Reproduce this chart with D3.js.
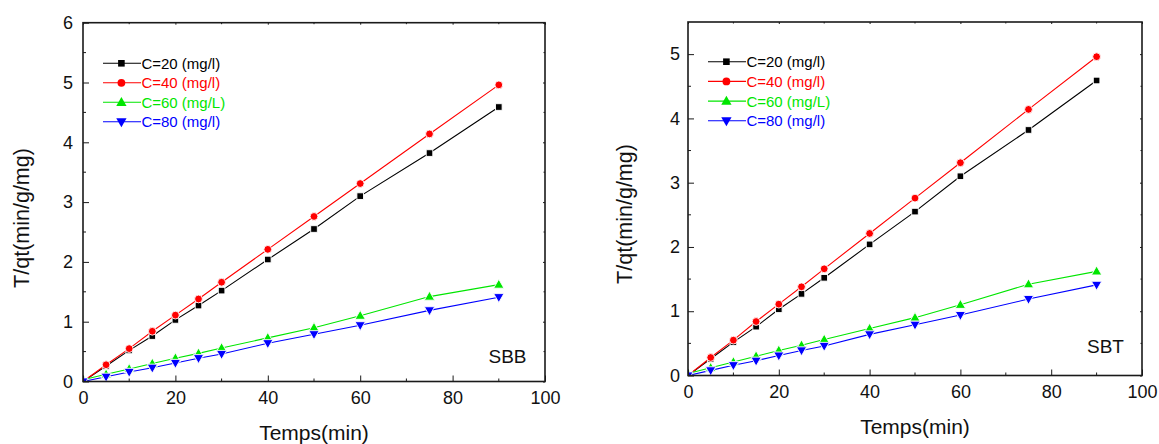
<!DOCTYPE html>
<html><head><meta charset="utf-8">
<script src="https://d3js.org/d3.v7.min.js"></script>
<style>body{margin:0;background:#fff;} svg{display:block;font-family:"Liberation Sans",Arial,sans-serif;}</style>
</head><body>
<svg id="c" width="1159" height="444"></svg>
<script>
// ---- data ----
const times = [0, 5, 10, 15, 20, 25, 30, 40, 50, 60, 75, 90];
const c20 = [0, 0.26, 0.52, 0.76, 1.03, 1.27, 1.52, 2.04, 2.55, 3.10, 3.82, 4.59];
const c40 = [0, 0.28, 0.55, 0.84, 1.11, 1.38, 1.66, 2.21, 2.76, 3.31, 4.14, 4.96];
const c60 = [0.03, 0.12, 0.21, 0.30, 0.39, 0.47, 0.56, 0.73, 0.90, 1.10, 1.42, 1.62];
const c80 = [0, 0.08, 0.16, 0.23, 0.31, 0.39, 0.46, 0.64, 0.79, 0.94, 1.19, 1.41];
const seriesNames = ["C=20 (mg/l)", "C=40 (mg/l)", "C=60 (mg/L)", "C=80 (mg/l)"];
const seriesColors = ["#000000", "#ff0000", "#00e600", "#0000ff"];
const seriesShapes = ["square", "circle", "triangle", "down"];
const xTicks = [0, 20, 40, 60, 80, 100];
const yTicksSBB = [0, 1, 2, 3, 4, 5, 6];
const yTicksSBT = [0, 1, 2, 3, 4, 5];
const xLabel = "Temps(min)";
const yLabel = "T/qt(min/g/mg)";

const svg = d3.select("#c");

function drawPanel(cfg) {
  const g = svg.append("g");
  const x = d3.scaleLinear().domain([0, 100]).range([cfg.x0, cfg.x1]);
  const y = d3.scaleLinear().domain(cfg.yDomain).range([cfg.yb, cfg.yt]);
  const clipId = "clip" + cfg.id;
  svg.append("clipPath").attr("id", clipId).append("rect")
    .attr("x", cfg.x0).attr("y", cfg.yt).attr("width", cfg.x1 - cfg.x0).attr("height", cfg.yb - cfg.yt);

  const data = [c20, c40, c60, c80];
  const plot = g.append("g").attr("clip-path", `url(#${clipId})`);
  const line = d3.line().x((d, i) => x(times[i])).y(d => y(d));
  data.forEach((vals, si) => {
    plot.append("path").attr("d", line(vals)).attr("fill", "none")
      .attr("stroke", seriesColors[si]).attr("stroke-width", 1.1);
  });
  data.forEach((vals, si) => {
    vals.forEach((v, i) => drawMarker(plot, seriesShapes[si], x(times[i]), y(v), seriesColors[si], true));
  });

  const ac = "#1a1a1a";
  const bottom = d3.axisBottom(x).tickValues(xTicks).tickSizeInner(-6).tickSizeOuter(0).tickPadding(cfg.xPad).tickFormat(d3.format("d"));
  const ga = g.append("g").attr("transform", `translate(0,${cfg.yb})`).call(bottom);
  const left = d3.axisLeft(y).tickValues(cfg.yTicks).tickSizeInner(-6).tickSizeOuter(0).tickPadding(cfg.yPad).tickFormat(d3.format("d"));
  const gl = g.append("g").attr("transform", `translate(${cfg.x0},0)`).call(left);
  const top = d3.axisTop(x).tickValues(xTicks).tickSizeInner(-2).tickSizeOuter(0).tickFormat("");
  const gt = g.append("g").attr("transform", `translate(0,${cfg.yt})`).call(top);
  const right = d3.axisRight(y).tickValues(cfg.yTicks).tickSizeInner(-2).tickSizeOuter(0).tickFormat("");
  const gr = g.append("g").attr("transform", `translate(${cfg.x1},0)`).call(right);
  const xMinor = d3.range(10, 100, 20);
  const yMinor = d3.range(0.5, cfg.yDomain[1], 1);
  ga.selectAll(".mn").data(xMinor).enter().append("line").attr("x1", d => x(d)).attr("x2", d => x(d)).attr("y1", 0).attr("y2", -3).attr("stroke", ac);
  gt.selectAll(".mn").data(xMinor).enter().append("line").attr("x1", d => x(d)).attr("x2", d => x(d)).attr("y1", 0).attr("y2", 1.5).attr("stroke", ac);
  gl.selectAll(".mn").data(yMinor).enter().append("line").attr("y1", d => y(d)).attr("y2", d => y(d)).attr("x1", 0).attr("x2", 3).attr("stroke", ac);
  gr.selectAll(".mn").data(yMinor).enter().append("line").attr("y1", d => y(d)).attr("y2", d => y(d)).attr("x1", 0).attr("x2", -1.5).attr("stroke", ac);
  [ga, gl, gt, gr].forEach(a => {
    a.select(".domain").remove();
    a.selectAll(".tick line").attr("stroke", ac);
    a.selectAll("text").attr("font-size", 18).attr("fill", "#111").attr("font-family", "Liberation Sans, Arial, sans-serif");
  });
  g.append("rect").attr("x", cfg.x0).attr("y", cfg.yt).attr("width", cfg.x1 - cfg.x0).attr("height", cfg.yb - cfg.yt)
    .attr("fill", "none").attr("stroke", ac).attr("stroke-width", 1.6);

  g.append("text").attr("x", (cfg.x0 + cfg.x1) / 2).attr("y", cfg.xTitleY).attr("text-anchor", "middle")
    .attr("font-size", 21).attr("fill", "#111").text(xLabel);
  g.append("text").attr("transform", `translate(${cfg.yTitleX},${cfg.yTitleCY}) rotate(-90)`).attr("text-anchor", "middle")
    .attr("font-size", 21.5).attr("fill", "#111").text(yLabel);
  g.append("text").attr("x", cfg.tagX).attr("y", cfg.tagY).attr("font-size", 19).attr("fill", "#111").text(cfg.tag);

  seriesNames.forEach((nm, i) => {
    const ly = cfg.legY + i * cfg.legDy;
    const lx = cfg.x0 + 20;
    g.append("line").attr("x1", lx).attr("x2", lx + 38).attr("y1", ly).attr("y2", ly)
      .attr("stroke", seriesColors[i]).attr("stroke-width", 1.1);
    drawMarker(g, seriesShapes[i], lx + 18.4, ly, seriesColors[i], false);
    g.append("text").attr("x", lx + 38.4).attr("y", ly + 5.4).attr("font-size", 15)
      .attr("fill", seriesColors[i]).text(nm);
  });
}

function drawMarker(sel, shape, cx, cy, color, gap) {
  let p;
  if (shape === "square") p = sel.append("rect").attr("x", cx - 3.3).attr("y", cy - 3.3).attr("width", 6.6).attr("height", 6.6);
  else if (shape === "circle") p = sel.append("circle").attr("cx", cx).attr("cy", cy).attr("r", 3.9);
  else if (shape === "triangle") p = sel.append("path").attr("d", d3.symbol(d3.symbolTriangle, 46)()).attr("transform", `translate(${cx},${cy + 0.6})`);
  else p = sel.append("path").attr("d", d3.symbol(d3.symbolTriangle, 46)()).attr("transform", `translate(${cx},${cy - 0.6}) rotate(180)`);
  p.attr("fill", color);
  if (gap) p.attr("stroke", "#fff").attr("stroke-width", 0.9);
}

drawPanel({id: "a", x0: 83, x1: 545, yt: 22.7, yb: 381.5, yDomain: [0, 6], yTicks: yTicksSBB,
  xPad: 10, yPad: 10,
  xTitleY: 440, yTitleX: 28.5, yTitleCY: 218, tag: "SBB", tagX: 488.5, tagY: 362.5,
  legY: 63.3, legDy: 19.5});
drawPanel({id: "b", x0: 688, x1: 1142, yt: 22, yb: 375.5, yDomain: [0, 5.5], yTicks: yTicksSBT,
  xPad: 10, yPad: 8,
  xTitleY: 433.5, yTitleX: 632, yTitleCY: 214, tag: "SBT", tagX: 1087, tagY: 352.5,
  legY: 61.7, legDy: 19.7});
</script>
</body></html>
